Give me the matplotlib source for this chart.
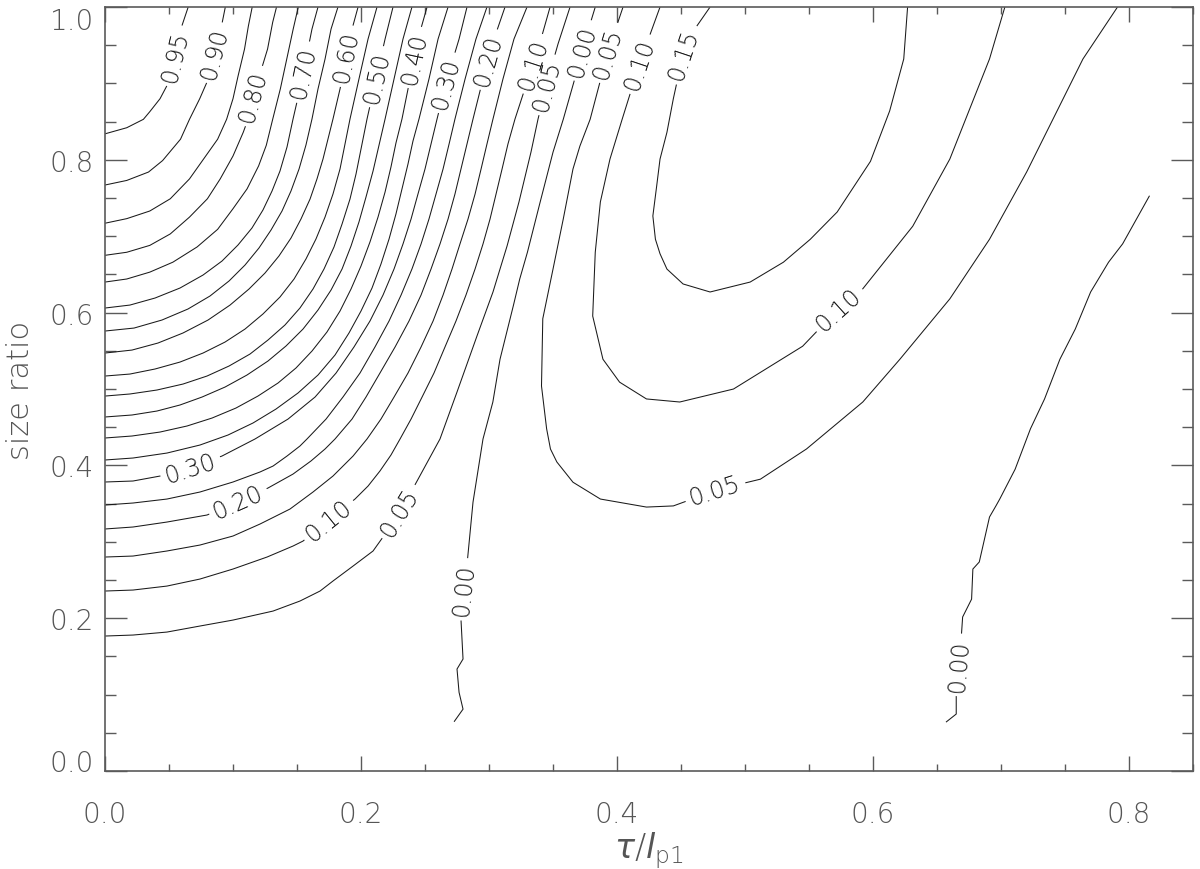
import numpy as np
import matplotlib
matplotlib.use('Agg')
import matplotlib.pyplot as plt
from matplotlib.contour import ContourSet
from matplotlib.ticker import FormatStrFormatter, MultipleLocator

plt.rcParams['font.family'] = 'DejaVu Sans'
plt.rcParams['font.weight'] = 200
plt.rcParams['mathtext.fontset'] = 'custom'
plt.rcParams['mathtext.rm'] = 'DejaVu Sans:weight=200'
plt.rcParams['mathtext.it'] = 'DejaVu Sans:italic:weight=200'

# contour lines: x = tau/l_p1, y = size ratio
x_095 = [0.000, 0.017, 0.030, 0.035, 0.043, 0.049, 0.055, 0.060, 0.065]
y_095 = [0.834, 0.842, 0.853, 0.863, 0.880, 0.899, 0.936, 0.975, 1.000]

x_090 = [0.000, 0.017, 0.034, 0.045, 0.059, 0.066, 0.074, 0.080, 0.086, 0.091, 0.094]
y_090 = [0.767, 0.773, 0.784, 0.799, 0.827, 0.853, 0.880, 0.903, 0.940, 0.975, 1.000]

x_085 = [0.000, 0.017, 0.035, 0.051, 0.066, 0.077, 0.088, 0.095, 0.100, 0.104, 0.109, 0.112, 0.115]
y_085 = [0.717, 0.723, 0.733, 0.749, 0.775, 0.801, 0.827, 0.853, 0.880, 0.910, 0.945, 0.975, 1.000]

x_080 = [0.000, 0.017, 0.035, 0.051, 0.066, 0.080, 0.090, 0.100, 0.108, 0.1117, 0.116, 0.121, 0.127, 0.131, 0.134]
y_080 = [0.675, 0.679, 0.688, 0.703, 0.725, 0.749, 0.775, 0.805, 0.836, 0.853, 0.884, 0.912, 0.945, 0.980, 1.000]

x_075 = [0.000, 0.017, 0.035, 0.053, 0.072, 0.088, 0.100, 0.111, 0.120, 0.126, 0.131, 0.137, 0.142, 0.147, 0.151]
y_075 = [0.640, 0.644, 0.653, 0.666, 0.686, 0.709, 0.736, 0.762, 0.792, 0.819, 0.853, 0.893, 0.932, 0.971, 1.000]

x_070 = [0.000, 0.0195, 0.0391, 0.0586, 0.0766, 0.0914, 0.1039, 0.1148, 0.1234, 0.1305, 0.1367, 0.1422, 0.1469,
         0.1523, 0.1570, 0.1617, 0.1664]
y_070 = [0.6060, 0.6099, 0.6191, 0.6322, 0.6492, 0.6675, 0.6885, 0.7107, 0.7343, 0.7592, 0.7853, 0.8168, 0.8534,
         0.8927, 0.9319, 0.9712, 1.000]

x_065 = [0.000, 0.0227, 0.0445, 0.0648, 0.0820, 0.0969, 0.1094, 0.1203, 0.1297, 0.1383, 0.1453, 0.1516, 0.1570,
         0.1617, 0.1664, 0.1719, 0.1766, 0.1820]
y_065 = [0.5759, 0.5798, 0.5903, 0.6047, 0.6217, 0.6414, 0.6623, 0.6846, 0.7081, 0.7330, 0.7592, 0.7880, 0.8194,
         0.8534, 0.8927, 0.9319, 0.9712, 1.000]

x_060 = [0.000, 0.0211, 0.0414, 0.0609, 0.0805, 0.0977, 0.1125, 0.1250, 0.1359, 0.1453, 0.1531, 0.1602, 0.1656,
         0.1703, 0.1742, 0.1781, 0.1836, 0.1883, 0.1930, 0.1977]
y_060 = [0.5471, 0.5510, 0.5602, 0.5733, 0.5903, 0.6099, 0.6309, 0.6518, 0.6741, 0.6976, 0.7225, 0.7487, 0.7749,
         0.8010, 0.8272, 0.8534, 0.8927, 0.9319, 0.9712, 1.000]

x_055 = [0.000, 0.0195, 0.0391, 0.0586, 0.0766, 0.0938, 0.1094, 0.1234, 0.1367, 0.1477, 0.1570, 0.1648, 0.1719,
         0.1781, 0.1836, 0.1875, 0.1914, 0.1984, 0.2055, 0.2125]
y_055 = [0.5170, 0.5196, 0.5262, 0.5353, 0.5471, 0.5615, 0.5785, 0.5982, 0.6204, 0.6440, 0.6702, 0.6963, 0.7251,
         0.7552, 0.7880, 0.8207, 0.8534, 0.9058, 0.9581, 1.000]

x_050 = [0.000, 0.0195, 0.0406, 0.0609, 0.0797, 0.0969, 0.1133, 0.1273, 0.1406, 0.1523, 0.1625, 0.1711, 0.1789,
         0.1852, 0.1914, 0.1961, 0.2000, 0.2047, 0.2117, 0.2188, 0.2250]
y_050 = [0.4908, 0.4935, 0.4987, 0.5065, 0.5170, 0.5301, 0.5458, 0.5641, 0.5838, 0.6060, 0.6309, 0.6571, 0.6859,
         0.7160, 0.7487, 0.7814, 0.8141, 0.8534, 0.9058, 0.9581, 1.000]

x_045 = [0.000, 0.0211, 0.0406, 0.0586, 0.0758, 0.0938, 0.1109, 0.1273, 0.1414, 0.1547, 0.1664, 0.1766, 0.1852,
         0.1922, 0.1984, 0.2039, 0.2094, 0.2141, 0.2188, 0.2258, 0.2328, 0.2398]
y_045 = [0.4634, 0.4660, 0.4712, 0.4791, 0.4895, 0.5026, 0.5183, 0.5366, 0.5563, 0.5785, 0.6034, 0.6296, 0.6571,
         0.6872, 0.7186, 0.7513, 0.7853, 0.8194, 0.8534, 0.9058, 0.9581, 1.000]

x_040 = [0.000, 0.0211, 0.0430, 0.0641, 0.0836, 0.1023, 0.1195, 0.1352, 0.1492, 0.1617, 0.1734, 0.1836, 0.1922,
         0.2000, 0.2070, 0.2133, 0.2188, 0.2234, 0.2273, 0.2320, 0.2383, 0.2445, 0.2516]
y_040 = [0.4359, 0.4385, 0.4437, 0.4516, 0.4620, 0.4751, 0.4908, 0.5079, 0.5275, 0.5497, 0.5746, 0.6021, 0.6309,
         0.6610, 0.6924, 0.7251, 0.7579, 0.7906, 0.8220, 0.8534, 0.9058, 0.9581, 1.000]

x_035 = [0.000, 0.0219, 0.0484, 0.0742, 0.0961, 0.1156, 0.1336, 0.1508, 0.1664, 0.1797, 0.1906, 0.2000, 0.2086,
         0.2156, 0.2219, 0.2273, 0.2320, 0.2367, 0.2406, 0.2453, 0.2531, 0.2602, 0.2680]
y_035 = [0.4071, 0.4097, 0.4162, 0.4267, 0.4398, 0.4555, 0.4738, 0.4948, 0.5183, 0.5445, 0.5733, 0.6021, 0.6322,
         0.6636, 0.6963, 0.7291, 0.7618, 0.7945, 0.8246, 0.8534, 0.9058, 0.9581, 1.000]

x_030 = [0.000, 0.0219, 0.0430, 0.0664, 0.0914, 0.1172, 0.1430, 0.1641, 0.1805, 0.1945, 0.2070, 0.2172, 0.2258,
         0.2328, 0.2391, 0.2445, 0.2500, 0.2547, 0.2594, 0.2672, 0.2766, 0.2828]
y_030 = [0.3783, 0.3796, 0.3861, 0.3966, 0.4123, 0.4346, 0.4607, 0.4895, 0.5209, 0.5550, 0.5890, 0.6230, 0.6571,
         0.6898, 0.7225, 0.7552, 0.7880, 0.8207, 0.8534, 0.9058, 0.9581, 1.000]

x_025 = [0.000, 0.0219, 0.0484, 0.0742, 0.1000, 0.1211, 0.1313, 0.1422, 0.1523, 0.1578, 0.1727, 0.1859, 0.1992,
         0.2109, 0.2219, 0.2313, 0.2398, 0.2469, 0.2531, 0.2586, 0.2641, 0.2688, 0.2734, 0.2813, 0.2898, 0.2984]
y_025 = [0.3482, 0.3508, 0.3560, 0.3652, 0.3783, 0.3914, 0.3992, 0.4123, 0.4254, 0.4346, 0.4607, 0.4895, 0.5209,
         0.5550, 0.5890, 0.6230, 0.6571, 0.6898, 0.7225, 0.7552, 0.7880, 0.8207, 0.8534, 0.9058, 0.9581, 1.000]

x_020 = [0.000, 0.0219, 0.0484, 0.0797, 0.1039, 0.1273, 0.1469, 0.1609, 0.1719, 0.1797, 0.1930, 0.2039, 0.2148,
         0.2266, 0.2375, 0.2469, 0.2547, 0.2617, 0.2680, 0.2734, 0.2781, 0.2828, 0.2875, 0.2953, 0.3039, 0.3125]
y_020 = [0.3168, 0.3194, 0.3259, 0.3351, 0.3521, 0.3704, 0.3887, 0.4058, 0.4215, 0.4346, 0.4607, 0.4895, 0.5209,
         0.5550, 0.5890, 0.6230, 0.6571, 0.6898, 0.7225, 0.7552, 0.7880, 0.8207, 0.8534, 0.9058, 0.9581, 1.000]

x_015 = [0.000, 0.0219, 0.0484, 0.0742, 0.1000, 0.1211, 0.1445, 0.1625, 0.1781, 0.1938, 0.2047, 0.2156, 0.2258,
         0.2367, 0.2469, 0.2563, 0.2641, 0.2711, 0.2773, 0.2836, 0.2891, 0.2938, 0.2984, 0.3031, 0.3109, 0.3195, 0.3297]
y_015 = [0.2801, 0.2814, 0.2880, 0.2958, 0.3076, 0.3233, 0.3429, 0.3652, 0.3861, 0.4123, 0.4346, 0.4607, 0.4895,
         0.5209, 0.5550, 0.5890, 0.6230, 0.6571, 0.6898, 0.7225, 0.7552, 0.7880, 0.8207, 0.8534, 0.9058, 0.9581, 1.000]

x_010 = [0.000, 0.0219, 0.0484, 0.0742, 0.1000, 0.1266, 0.1469, 0.1547, 0.1750, 0.1953, 0.2055, 0.2148, 0.2234,
         0.2305, 0.2391, 0.2477, 0.2570, 0.2656, 0.2742, 0.2820, 0.2891, 0.2953, 0.3008, 0.3055, 0.3102, 0.3148,
         0.3203, 0.3305, 0.3406, 0.3477]
y_010 = [0.2356, 0.2369, 0.2421, 0.2513, 0.2644, 0.2801, 0.2945, 0.3010, 0.3285, 0.3560, 0.3730, 0.3927, 0.4136,
         0.4346, 0.4607, 0.4895, 0.5209, 0.5550, 0.5890, 0.6230, 0.6571, 0.6898, 0.7225, 0.7552, 0.7880, 0.8207,
         0.8534, 0.9058, 0.9581, 1.000]

x_005 = [0.000, 0.0219, 0.0484, 0.0742, 0.1000, 0.1313, 0.1523, 0.1680, 0.1781, 0.1938, 0.2094, 0.2172, 0.2305,
         0.2438, 0.2617, 0.2750, 0.2906, 0.3031, 0.3141, 0.3234, 0.3328, 0.3383, 0.3461, 0.3539, 0.3633]
y_005 = [0.1767, 0.1780, 0.1819, 0.1898, 0.1976, 0.2094, 0.2225, 0.2356, 0.2487, 0.2683, 0.2880, 0.3063, 0.3390,
         0.3796, 0.4346, 0.4961, 0.5694, 0.6270, 0.6872, 0.7448, 0.8102, 0.8534, 0.9058, 0.9516, 1.000]

# zero line in the middle (from the bottom up to the top edge)
x_000a = [0.2727, 0.2797, 0.2766, 0.275, 0.2797, 0.278, 0.283, 0.2875, 0.2953, 0.303, 0.3086, 0.319, 0.324, 0.330,
          0.340, 0.350, 0.358, 0.367, 0.373, 0.383]
y_000a = [0.0645, 0.081, 0.103, 0.1335, 0.1466, 0.2016, 0.2736, 0.352, 0.4346, 0.483, 0.539, 0.609, 0.644, 0.679,
          0.745, 0.810, 0.853, 0.906, 0.945, 1.000]

# right hand family (U shaped, open at the top)
x_005u = [0.4047, 0.393, 0.379, 0.371, 0.3656, 0.358, 0.350, 0.342, 0.341, 0.345, 0.348, 0.353, 0.3656, 0.387, 0.423,
          0.444, 0.480, 0.512, 0.548, 0.592, 0.621, 0.660, 0.691, 0.720, 0.764, 0.791]
y_005u = [1.000, 0.942, 0.853, 0.818, 0.788, 0.7225, 0.657, 0.592, 0.504, 0.448, 0.4215, 0.4045, 0.378, 0.356, 0.3455,
          0.347, 0.369, 0.382, 0.4215, 0.483, 0.539, 0.618, 0.696, 0.784, 0.932, 1.000]

x_010u = [0.4336, 0.418, 0.404, 0.3945, 0.387, 0.383, 0.381, 0.389, 0.402, 0.423, 0.449, 0.491, 0.545, 0.573, 0.590,
          0.631, 0.660, 0.691, 0.703]
y_010u = [1.000, 0.928, 0.853, 0.801, 0.745, 0.679, 0.5955, 0.539, 0.509, 0.487, 0.483, 0.500, 0.556, 0.605, 0.627,
          0.713, 0.801, 0.932, 1.000]

x_015u = [0.4727, 0.459, 0.4516, 0.444, 0.439, 0.4336, 0.431, 0.428, 0.430, 0.4336, 0.439, 0.4516, 0.4727, 0.504,
          0.530, 0.551, 0.572, 0.598, 0.613, 0.624, 0.627]
y_015u = [1.000, 0.967, 0.9385, 0.880, 0.836, 0.801, 0.766, 0.7265, 0.696, 0.677, 0.657, 0.6375, 0.627, 0.640,
          0.666, 0.696, 0.7317, 0.798, 0.864, 0.932, 1.000]

# second zero line on the right
x_000b = [0.816, 0.795, 0.784, 0.770, 0.758, 0.746, 0.734, 0.723, 0.711, 0.699, 0.696, 0.691, 0.683, 0.678, 0.677,
          0.670, 0.669, 0.665, 0.665, 0.657]
y_000b = [0.753, 0.690, 0.666, 0.627, 0.5785, 0.539, 0.487, 0.448, 0.395, 0.356, 0.347, 0.3325, 0.2736, 0.2644, 0.225,
          0.2016, 0.1767, 0.098, 0.0746, 0.064]

# levels that carry a label somewhere
lab_levels = [0.00, 0.05, 0.10, 0.15, 0.20, 0.30, 0.40, 0.50, 0.60, 0.70, 0.80, 0.90, 0.95]
lab_lines = [
    [(x_000a, y_000a), (x_000b, y_000b)],
    [(x_005, y_005), (x_005u, y_005u)],
    [(x_010, y_010), (x_010u, y_010u)],
    [(x_015, y_015), (x_015u, y_015u)],
    [(x_020, y_020)], [(x_030, y_030)], [(x_040, y_040)], [(x_050, y_050)],
    [(x_060, y_060)], [(x_070, y_070)], [(x_080, y_080)], [(x_090, y_090)], [(x_095, y_095)],
]
# levels drawn without labels
plain_levels = [0.25, 0.35, 0.45, 0.55, 0.65, 0.75, 0.85]
plain_lines = [[(x_025, y_025)], [(x_035, y_035)], [(x_045, y_045)], [(x_055, y_055)],
               [(x_065, y_065)], [(x_075, y_075)], [(x_085, y_085)]]

label_pos = [(0.0547, 0.936), (0.086, 0.940), (0.115, 0.884), (0.154, 0.915), (0.1875, 0.936),
             (0.209, 0.910), (0.242, 0.934), (0.264, 0.902), (0.298, 0.932), (0.330, 0.928),
             (0.343, 0.899), (0.369, 0.945), (0.389, 0.942), (0.4125, 0.928), (0.4516, 0.9385),
             (0.066, 0.401), (0.103, 0.356), (0.173, 0.332), (0.230, 0.339), (0.2797, 0.238),
             (0.477, 0.365), (0.5727, 0.605), (0.660, 0.140)]

xticks = [0.0, 0.2, 0.4, 0.6, 0.8]
yticks = [0.0, 0.2, 0.4, 0.6, 0.8, 1.0]

fig = plt.figure(figsize=(12, 8.7), dpi=100)
ax = fig.add_axes([0.0875, 0.1126, 0.9067, 0.8782])
ax.set_xlim(0, 0.85)
ax.set_ylim(0, 1.0)

line_col = '#1a1a1a'
segs_plain = [[np.column_stack([x, y]) for x, y in lev] for lev in plain_lines]
ContourSet(ax, plain_levels, segs_plain, colors=line_col, linewidths=0.75)
segs_lab = [[np.column_stack([x, y]) for x, y in lev] for lev in lab_lines]
cs = ContourSet(ax, lab_levels, segs_lab, colors=line_col, linewidths=0.75)
ax.clabel(cs, manual=label_pos, inline=True, inline_spacing=5, fmt='%.2f', fontsize=17)

ax.set_xlim(0, 0.85)
ax.set_ylim(0, 1.0)
ax.set_xticks(xticks)
ax.set_yticks(yticks)
ax.xaxis.set_minor_locator(MultipleLocator(0.05))
ax.yaxis.set_minor_locator(MultipleLocator(0.05))
ax.xaxis.set_major_formatter(FormatStrFormatter('%.1f'))
ax.yaxis.set_major_formatter(FormatStrFormatter('%.1f'))

gray = '#5a5a5a'
for s in ax.spines.values():
    s.set_color(gray)
    s.set_linewidth(1.2)
ax.tick_params(which='both', direction='in', top=True, right=True, color=gray,
               labelcolor='#555555', labelsize=20, width=1)
ax.tick_params(axis='x', which='major', length=11, pad=21)
ax.tick_params(axis='x', which='minor', length=5)
ax.tick_params(axis='y', which='major', length=16, pad=8)
ax.tick_params(axis='y', which='minor', length=8)

ax.set_ylabel('size ratio', fontsize=22, color='#555555', fontweight=200)
ax.yaxis.set_label_coords(-0.064, 0.5)
ax.set_xlabel(r'$\tau/l_{\rm p1}$', fontsize=24, color='#555555')
ax.xaxis.set_label_coords(0.5, -0.076)

fig.canvas.draw()
yt = ax.yaxis.get_major_ticks()
yt[0].label1.set_va('baseline')
yt[-1].label1.set_va('top')

fig.savefig('out.png', dpi=100)
